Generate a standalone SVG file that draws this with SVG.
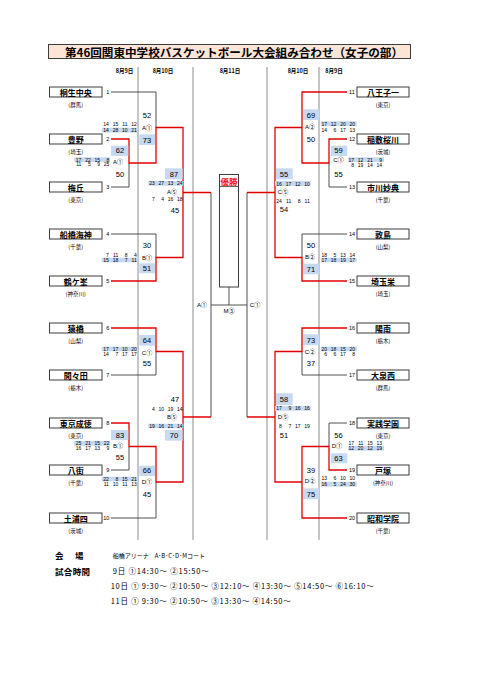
<svg xmlns="http://www.w3.org/2000/svg" width="481" height="680" viewBox="0 0 481 680">
<style>
text{font-family:"Liberation Sans","Noto Sans CJK JP",sans-serif;fill:#000}
.jp{font-family:"Noto Sans CJK JP",sans-serif}
.sep{stroke:#8c8c8c;stroke-width:1;fill:none}
.ln{stroke:#3c3c3c;stroke-width:0.9;fill:none}
.rd{stroke:#e40000;stroke-width:1.3;fill:none}
.box{fill:#fff;stroke:#3c3c3c;stroke-width:1}
.tn{font-family:"Noto Sans CJK JP",sans-serif;font-weight:700;font-size:8px;text-anchor:middle;dominant-baseline:central}
.pf{font-family:"Noto Sans CJK JP",sans-serif;font-size:5.5px;text-anchor:middle;dominant-baseline:central}
.nl{font-size:5.5px;text-anchor:end;dominant-baseline:central}
.nr{font-size:5.5px;text-anchor:start;dominant-baseline:central}
.sc{font-size:7.5px;text-anchor:middle;dominant-baseline:central}
.q{font-size:5px;text-anchor:end;dominant-baseline:central}
.lb{font-size:6px;text-anchor:middle;dominant-baseline:central}
.hl{fill:#c6d9f1}
.dt{font-family:"Noto Sans CJK JP",sans-serif;font-size:5.5px;font-weight:700;text-anchor:middle;dominant-baseline:central}
.info{font-family:"Noto Sans CJK JP",sans-serif;font-size:7.5px;dominant-baseline:central}
.hd{font-family:"Noto Sans CJK JP",sans-serif;font-size:8.5px;font-weight:700;dominant-baseline:central}
</style>

<g id="title">
<rect x="48.5" y="44.5" width="362" height="14" fill="#fce4d6" stroke="#3c3c3c" stroke-width="1"/>
<text class="jp" x="234" y="51.8" font-size="11.5" font-weight="700" text-anchor="middle" dominant-baseline="central" textLength="338" lengthAdjust="spacingAndGlyphs">第46回関東中学校バスケットボール大会組み合わせ（女子の部）</text>
</g>

<g id="dates">
<text class="dt" x="124.5" y="70.5">8月9日</text>
<text class="dt" x="163" y="70.5">8月10日</text>
<text class="dt" x="230" y="70.5">8月11日</text>
<text class="dt" x="298" y="70.5">8月10日</text>
<text class="dt" x="334" y="70.5">8月9日</text>
</g>

<g id="day-separators">
<path class="sep" d="M138,67V540M193,67V540M267,67V540M319,67V540"/>
</g>

<g id="connectors">
<path class="ln" d="M111,92H156V127.5M111,187H129V163M111,234H156V257.5M111,375H156V351.5M111,470H129V446.5M111,518H156V482"/>
<path class="ln" d="M347,187H329V163M347,234H302V257.5M347,375H302V351.5M347,423H329V446.5"/>
<path class="ln" d="M211,192.5V417M247,192.5V417M211,305H247M229,287V305"/>
<path class="rd" d="M111,139H129V163H156V127.5H183V192.5H211M111,281H156V257.5H183V192.5"/>
<path class="rd" d="M111,328H156V351.5H183V417H211M111,423H129V446.5H156V482H183V417"/>
<path class="rd" d="M347,92H302V127.5H275V192.5H247M347,139H329V163H302V127.5M347,281H302V257.5H275V192.5"/>
<path class="rd" d="M347,328H302V351.5H275V417H247M347,470H329V446.5H302V482M347,518H302V482H275V417"/>
</g>

<g id="team-1"><rect class="box" x="49.5" y="87" width="52.5" height="10"/><text class="tn" x="75.7" y="92">桐生中央</text><text class="pf" x="75.7" y="104.5">(群馬)</text><text class="nl" x="109.3" y="92">1</text></g>
<g id="team-2"><rect class="box" x="49.5" y="134" width="52.5" height="10"/><text class="tn" x="75.7" y="139">豊野</text><text class="pf" x="75.7" y="151.5">(埼玉)</text><text class="nl" x="109.3" y="139">2</text></g>
<g id="team-3"><rect class="box" x="49.5" y="182" width="52.5" height="10"/><text class="tn" x="75.7" y="187">梅丘</text><text class="pf" x="75.7" y="199.5">(東京)</text><text class="nl" x="109.3" y="187">3</text></g>
<g id="team-4"><rect class="box" x="49.5" y="229" width="52.5" height="10"/><text class="tn" x="75.7" y="234">船橋海神</text><text class="pf" x="75.7" y="246.5">(千葉)</text><text class="nl" x="109.3" y="234">4</text></g>
<g id="team-5"><rect class="box" x="49.5" y="276" width="52.5" height="10"/><text class="tn" x="75.7" y="281">鶴ケ峯</text><text class="pf" x="75.7" y="293.5">(神奈川)</text><text class="nl" x="109.3" y="281">5</text></g>
<g id="team-6"><rect class="box" x="49.5" y="323" width="52.5" height="10"/><text class="tn" x="75.7" y="328">猿橋</text><text class="pf" x="75.7" y="340.5">(山梨)</text><text class="nl" x="109.3" y="328">6</text></g>
<g id="team-7"><rect class="box" x="49.5" y="370" width="52.5" height="10"/><text class="tn" x="75.7" y="375">間々田</text><text class="pf" x="75.7" y="387.5">(栃木)</text><text class="nl" x="109.3" y="375">7</text></g>
<g id="team-8"><rect class="box" x="49.5" y="418" width="52.5" height="10"/><text class="tn" x="75.7" y="423">東京成徳</text><text class="pf" x="75.7" y="435.5">(東京)</text><text class="nl" x="109.3" y="423">8</text></g>
<g id="team-9"><rect class="box" x="49.5" y="465" width="52.5" height="10"/><text class="tn" x="75.7" y="470">八街</text><text class="pf" x="75.7" y="482.5">(千葉)</text><text class="nl" x="109.3" y="470">9</text></g>
<g id="team-10"><rect class="box" x="49.5" y="513" width="52.5" height="10"/><text class="tn" x="75.7" y="518">土浦四</text><text class="pf" x="75.7" y="530.5">(茨城)</text><text class="nl" x="109.3" y="518">10</text></g>

<g id="team-11"><rect class="box" x="357" y="87" width="52" height="10"/><text class="tn" x="383" y="92">八王子一</text><text class="pf" x="383" y="104.5">(東京)</text><text class="nr" x="349" y="92">11</text></g>
<g id="team-12"><rect class="box" x="357" y="134" width="52" height="10"/><text class="tn" x="383" y="139">稲敷桜川</text><text class="pf" x="383" y="151.5">(茨城)</text><text class="nr" x="349" y="139">12</text></g>
<g id="team-13"><rect class="box" x="357" y="182" width="52" height="10"/><text class="tn" x="383" y="187">市川妙典</text><text class="pf" x="383" y="199.5">(千葉)</text><text class="nr" x="349" y="187">13</text></g>
<g id="team-14"><rect class="box" x="357" y="229" width="52" height="10"/><text class="tn" x="383" y="234">敦島</text><text class="pf" x="383" y="246.5">(山梨)</text><text class="nr" x="349" y="234">14</text></g>
<g id="team-15"><rect class="box" x="357" y="276" width="52" height="10"/><text class="tn" x="383" y="281">埼玉栄</text><text class="pf" x="383" y="293.5">(埼玉)</text><text class="nr" x="349" y="281">15</text></g>
<g id="team-16"><rect class="box" x="357" y="323" width="52" height="10"/><text class="tn" x="383" y="328">陽南</text><text class="pf" x="383" y="340.5">(栃木)</text><text class="nr" x="349" y="328">16</text></g>
<g id="team-17"><rect class="box" x="357" y="370" width="52" height="10"/><text class="tn" x="383" y="375">大泉西</text><text class="pf" x="383" y="387.5">(群馬)</text><text class="nr" x="349" y="375">17</text></g>
<g id="team-18"><rect class="box" x="357" y="418" width="52" height="10"/><text class="tn" x="383" y="423">実践学園</text><text class="pf" x="383" y="435.5">(東京)</text><text class="nr" x="349" y="423">18</text></g>
<g id="team-19"><rect class="box" x="357" y="465" width="52" height="10"/><text class="tn" x="383" y="470">戸塚</text><text class="pf" x="383" y="482.5">(神奈川)</text><text class="nr" x="349" y="470">19</text></g>
<g id="team-20"><rect class="box" x="357" y="513" width="52" height="10"/><text class="tn" x="383" y="518">昭和学院</text><text class="pf" x="383" y="530.5">(千葉)</text><text class="nr" x="349" y="518">20</text></g>

<g id="match-L-A1-9">
<rect class="hl" x="111" y="145.7" width="17.3" height="10.3"/><rect class="hl" x="74.3" y="157.3" width="35.7" height="4.7"/>
<text class="sc" x="120" y="150.7">62</text>
<text class="q" y="159.6"><tspan x="81.4">17</tspan><tspan x="90.7">22</tspan><tspan x="100">15</tspan><tspan x="109.3">8</tspan></text>
<text class="q" y="164.3"><tspan x="81.4">11</tspan><tspan x="90.7">5</tspan><tspan x="100">9</tspan><tspan x="109.3">25</tspan></text>
<text class="lb" x="118" y="161.7">A①</text>
<text class="sc" x="120" y="174.3">50</text>
</g>
<g id="match-L-A1-10">
<rect class="hl" x="139.3" y="134.3" width="15.7" height="10.7"/><rect class="hl" x="101.7" y="127.7" width="36" height="4.9"/>
<text class="sc" x="147" y="115">52</text>
<text class="q" y="123.5"><tspan x="108.9">14</tspan><tspan x="118.2">15</tspan><tspan x="127.5">11</tspan><tspan x="136.8">12</tspan></text>
<text class="q" y="130.2"><tspan x="108.9">14</tspan><tspan x="118.2">28</tspan><tspan x="127.5">10</tspan><tspan x="136.8">21</tspan></text>
<text class="lb" x="147" y="128.3">A①</text>
<text class="sc" x="147" y="140">73</text>
</g>
<g id="match-L-B1-10">
<rect class="hl" x="139.3" y="263.3" width="15.7" height="10"/><rect class="hl" x="101.7" y="257.7" width="36" height="4.6"/>
<text class="sc" x="147" y="245.7">30</text>
<text class="q" y="254.5"><tspan x="108.9">7</tspan><tspan x="118.2">11</tspan><tspan x="127.5">8</tspan><tspan x="136.8">4</tspan></text>
<text class="q" y="260.1"><tspan x="108.9">15</tspan><tspan x="118.2">18</tspan><tspan x="127.5">7</tspan><tspan x="136.8">11</tspan></text>
<text class="lb" x="147" y="257.7">B①</text>
<text class="sc" x="147" y="268.3">51</text>
</g>
<g id="match-L-C1-10">
<rect class="hl" x="139.3" y="335" width="15.7" height="10.7"/><rect class="hl" x="101.7" y="346.7" width="36" height="4.6"/>
<text class="sc" x="147" y="340">64</text>
<text class="q" y="349.1"><tspan x="108.9">17</tspan><tspan x="118.2">17</tspan><tspan x="127.5">10</tspan><tspan x="136.8">20</tspan></text>
<text class="q" y="353.6"><tspan x="108.9">14</tspan><tspan x="118.2">7</tspan><tspan x="127.5">17</tspan><tspan x="136.8">17</tspan></text>
<text class="lb" x="147" y="352.7">C①</text>
<text class="sc" x="147" y="363.3">55</text>
</g>
<g id="match-L-B1-9">
<rect class="hl" x="111" y="430" width="17.3" height="10"/><rect class="hl" x="74.3" y="441" width="35.7" height="4.7"/>
<text class="sc" x="120" y="435">83</text>
<text class="q" y="443.4"><tspan x="81.4">25</tspan><tspan x="90.7">21</tspan><tspan x="100">15</tspan><tspan x="109.3">22</tspan></text>
<text class="q" y="448.4"><tspan x="81.4">16</tspan><tspan x="90.7">17</tspan><tspan x="100">13</tspan><tspan x="109.3">9</tspan></text>
<text class="lb" x="118" y="446">B①</text>
<text class="sc" x="120" y="457.7">55</text>
</g>
<g id="match-L-D1-10">
<rect class="hl" x="139.3" y="465.7" width="15.7" height="10.3"/><rect class="hl" x="101.7" y="476.7" width="36" height="4.6"/>
<text class="sc" x="147" y="470.7">66</text>
<text class="q" y="479.1"><tspan x="108.9">22</tspan><tspan x="118.2">8</tspan><tspan x="127.5">15</tspan><tspan x="136.8">21</tspan></text>
<text class="q" y="484.1"><tspan x="108.9">11</tspan><tspan x="118.2">10</tspan><tspan x="127.5">11</tspan><tspan x="136.8">13</tspan></text>
<text class="lb" x="147" y="482.3">D①</text>
<text class="sc" x="147" y="494">45</text>
</g>
<g id="match-L-A5-10">
<rect class="hl" x="165" y="168.3" width="17.7" height="11"/><rect class="hl" x="148.3" y="181" width="35" height="4.7"/>
<text class="sc" x="174" y="174.3">87</text>
<text class="q" y="183.4"><tspan x="154.9">23</tspan><tspan x="164.1">27</tspan><tspan x="173.3">13</tspan><tspan x="182.5">24</tspan></text>
<text class="lb" x="172" y="191.7">A⑤</text>
<text class="q" y="199.3"><tspan x="154.9">7</tspan><tspan x="164.1">4</tspan><tspan x="173.3">16</tspan><tspan x="182.5">18</tspan></text>
<text class="sc" x="175" y="210">45</text>
</g>
<g id="match-L-B5-10">
<rect class="hl" x="148.3" y="423.7" width="35" height="4.6"/><rect class="hl" x="165" y="430" width="17.7" height="10.7"/>
<text class="sc" x="175" y="399.3">47</text>
<text class="q" y="408.7"><tspan x="154.9">4</tspan><tspan x="164.1">10</tspan><tspan x="173.3">19</tspan><tspan x="182.5">14</tspan></text>
<text class="lb" x="172" y="417.3">B⑤</text>
<text class="q" y="426"><tspan x="154.9">19</tspan><tspan x="164.1">16</tspan><tspan x="173.3">21</tspan><tspan x="182.5">14</tspan></text>
<text class="sc" x="174" y="435">70</text>
</g>

<g id="match-R-A2-10">
<rect class="hl" x="303.3" y="109.3" width="16" height="10.7"/><rect class="hl" x="320.7" y="121.3" width="36" height="4.7"/>
<text class="sc" x="311" y="115">69</text>
<text class="lb" x="310" y="127.3">A②</text>
<text class="sc" x="311" y="139.3">50</text>
<text class="q" y="123.7"><tspan x="327.1">17</tspan><tspan x="336.4">12</tspan><tspan x="345.7">20</tspan><tspan x="355">20</tspan></text>
<text class="q" y="130"><tspan x="327.1">14</tspan><tspan x="336.4">6</tspan><tspan x="345.7">17</tspan><tspan x="355">13</tspan></text>
</g>
<g id="match-R-C1-9">
<rect class="hl" x="331" y="145.7" width="16.3" height="10.3"/><rect class="hl" x="348.3" y="157.3" width="35.7" height="4.7"/>
<text class="sc" x="338.5" y="150.7">59</text>
<text class="lb" x="338.5" y="160">C①</text>
<text class="q" y="159.6"><tspan x="354.1">17</tspan><tspan x="363.4">12</tspan><tspan x="372.7">21</tspan><tspan x="382">9</tspan></text>
<text class="q" y="165"><tspan x="354.1">8</tspan><tspan x="363.4">19</tspan><tspan x="372.7">14</tspan><tspan x="382">14</tspan></text>
<text class="sc" x="338.5" y="174.3">55</text>
</g>
<g id="match-R-C5-10">
<rect class="hl" x="276" y="168.3" width="16.7" height="11"/><rect class="hl" x="275" y="181" width="35.7" height="5"/>
<text class="sc" x="284" y="174">55</text>
<text class="q" y="183.5"><tspan x="281.9">16</tspan><tspan x="291.2">17</tspan><tspan x="300.5">12</tspan><tspan x="309.8">10</tspan></text>
<text class="lb" x="283" y="191.7">C⑤</text>
<text class="q" y="200.7"><tspan x="281.9">24</tspan><tspan x="291.2">11</tspan><tspan x="300.5">8</tspan><tspan x="309.8">11</tspan></text>
<text class="sc" x="284" y="209.5">54</text>
</g>
<g id="match-R-B2-10">
<rect class="hl" x="303.3" y="263.7" width="16" height="10.6"/><rect class="hl" x="320.7" y="257.7" width="36" height="4.6"/>
<text class="sc" x="311" y="245.7">50</text>
<text class="lb" x="310" y="257.3">B②</text>
<text class="sc" x="311" y="269">71</text>
<text class="q" y="254.5"><tspan x="327.1">18</tspan><tspan x="336.4">5</tspan><tspan x="345.7">13</tspan><tspan x="355">14</tspan></text>
<text class="q" y="260.1"><tspan x="327.1">17</tspan><tspan x="336.4">18</tspan><tspan x="345.7">19</tspan><tspan x="355">17</tspan></text>
</g>
<g id="match-R-C2-10">
<rect class="hl" x="303.3" y="334.3" width="16" height="11"/><rect class="hl" x="320.7" y="346.7" width="36" height="4.6"/>
<text class="sc" x="311" y="340">73</text>
<text class="lb" x="310" y="351.7">C②</text>
<text class="sc" x="311" y="363.3">37</text>
<text class="q" y="349.1"><tspan x="327.1">20</tspan><tspan x="336.4">18</tspan><tspan x="345.7">15</tspan><tspan x="355">20</tspan></text>
<text class="q" y="353.6"><tspan x="327.1">6</tspan><tspan x="336.4">6</tspan><tspan x="345.7">17</tspan><tspan x="355">8</tspan></text>
</g>
<g id="match-R-D5-10">
<rect class="hl" x="276" y="393.3" width="16.7" height="11.7"/><rect class="hl" x="275" y="406" width="35.7" height="4.7"/>
<text class="sc" x="284" y="399.3">58</text>
<text class="q" y="408.4"><tspan x="281.9">17</tspan><tspan x="291.2">9</tspan><tspan x="300.5">16</tspan><tspan x="309.8">16</tspan></text>
<text class="lb" x="283" y="417.3">D⑤</text>
<text class="q" y="426"><tspan x="281.9">8</tspan><tspan x="291.2">7</tspan><tspan x="300.5">17</tspan><tspan x="309.8">19</tspan></text>
<text class="sc" x="284" y="435">51</text>
</g>
<g id="match-R-D1-9">
<rect class="hl" x="331" y="453.3" width="16.3" height="10"/><rect class="hl" x="348.3" y="446" width="35.7" height="4.7"/>
<text class="sc" x="338.5" y="435">56</text>
<text class="lb" x="337" y="446">D①</text>
<text class="sc" x="338.5" y="458.3">63</text>
<text class="q" y="442.8"><tspan x="354.1">17</tspan><tspan x="363.4">11</tspan><tspan x="372.7">15</tspan><tspan x="382">13</tspan></text>
<text class="q" y="448.4"><tspan x="354.1">12</tspan><tspan x="363.4">20</tspan><tspan x="372.7">12</tspan><tspan x="382">19</tspan></text>
</g>
<g id="match-R-D2-10">
<rect class="hl" x="303.3" y="488.3" width="16" height="11"/><rect class="hl" x="320.7" y="481.7" width="36" height="5"/>
<text class="sc" x="311" y="470">39</text>
<text class="lb" x="310" y="481">D②</text>
<text class="sc" x="311" y="494">75</text>
<text class="q" y="478.4"><tspan x="327.1">13</tspan><tspan x="336.4">6</tspan><tspan x="345.7">10</tspan><tspan x="355">10</tspan></text>
<text class="q" y="484.2"><tspan x="327.1">16</tspan><tspan x="336.4">5</tspan><tspan x="345.7">24</tspan><tspan x="355">30</tspan></text>
</g>

<g id="final">
<rect x="219.5" y="174.5" width="19" height="112.5" fill="#fff" stroke="#3c3c3c" stroke-width="1"/>
<path d="M219.5,186.5H238.5" stroke="#3c3c3c" stroke-width="0.8"/>
<text class="jp" x="229" y="180.5" font-size="8.5" font-weight="700" text-anchor="middle" dominant-baseline="central" style="fill:#ff1010">優勝</text>
<text class="lb" x="202" y="305">A①</text>
<text class="lb" x="255" y="304.5">C①</text>
<text class="lb" x="229" y="310.5">M③</text>
</g>

<g id="info">
<text class="hd" x="55" y="555" textLength="28.5">会　場</text>
<text class="jp" x="112.7" y="555" font-size="6" dominant-baseline="central">船橋アリーナ　A･B･C･D･Mコート</text>
<text class="hd" x="55" y="570.7" textLength="35">試合時間</text>
<text class="info" x="112.7" y="570.7" textLength="96">9日 ①14:30～ ②15:50～</text>
<text class="info" x="110.7" y="585.3" textLength="263">10日 ① 9:30～ ②10:50～ ③12:10～ ④13:30～ ⑤14:50～ ⑥16:10～</text>
<text class="info" x="110.7" y="600" textLength="180">11日 ① 9:30～ ②10:50～ ③13:30～ ④14:50～</text>
</g>
</svg>
